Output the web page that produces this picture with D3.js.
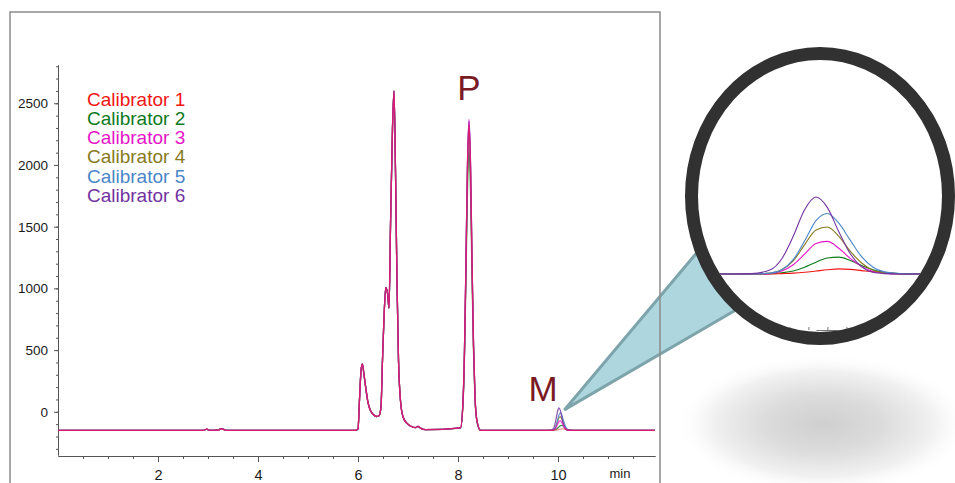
<!DOCTYPE html>
<html>
<head>
<meta charset="utf-8">
<script src="https://cdn.jsdelivr.net/npm/d3@7"></script>
<style>
body { margin: 0; background: #fff; }
svg { display: block; font-family: "Liberation Sans", Arial, sans-serif; }
</style>
</head>
<body>
<svg id="chart" width="955" height="483"></svg>
<script>
// calibrator names + colours (legend order)
var calibrators = ["Calibrator 1", "Calibrator 2", "Calibrator 3", "Calibrator 4", "Calibrator 5", "Calibrator 6"];
var colors = ["#f01414", "#0e7a1e", "#e614c8", "#877a1c", "#4a86c8", "#7232a0"];

// part of the run that is the same for every calibrator (min, mAU)
var rtCommon = [0, 2.9, 2.98, 3.02, 3.06, 3.2, 3.26, 3.3, 3.36, 5.95, 6.0, 6.03, 6.06, 6.087, 6.12, 6.16, 6.2, 6.25, 6.3, 6.37,
    6.42, 6.46, 6.49, 6.52, 6.555, 6.59, 6.62, 6.65, 6.69, 6.72, 6.75, 6.78, 6.81, 6.85, 6.9, 6.97, 7.05, 7.15, 7.2, 7.25, 7.35];
var sigCommon = [-150, -150, -141, -149, -150, -149, -137, -140, -150, -150, -140, 100, 330, 388, 300, 180, 75, 10, -20, -38,
    -32, 40, 420, 760, 1006, 962, 841, 1500, 2300, 2600, 1950, 1050, 420, 90, -40, -90, -115, -128, -118, -132, -145];

// peak P
var rtP = [8.05, 8.10, 8.13, 8.16, 8.19, 8.22, 8.25, 8.28, 8.31, 8.34, 8.38, 8.45];
var sigP = [
    [-130, 81, 495, 1214, 1983, 2330, 1983, 1214, 544, 123, -76, -150],
    [-132, 61, 440, 1098, 1802, 2120, 1802, 1098, 486, 100, -82, -150],
    [-130, 84, 505, 1236, 2017, 2370, 2017, 1236, 556, 127, -74, -150],
    [-130, 78, 487, 1197, 1957, 2300, 1957, 1197, 536, 120, -76, -150],
    [-130, 85, 503, 1230, 2009, 2360, 2009, 1230, 553, 126, -75, -150],
    [-130, 83, 500, 1225, 2000, 2350, 2000, 1225, 550, 125, -75, -150]
];

// peak M
var rtM = [9.80, 9.85, 9.90, 9.93, 9.96, 9.99, 10.02, 10.05, 10.08, 10.11, 10.14, 10.17, 10.20, 10.24, 10.30];
var sigM = [
    [-150, -150, -150, -149, -148, -146, -143, -140, -138, -139, -142, -145, -147, -149, -150],
    [-150, -150, -149, -147, -143, -134, -122, -112, -110, -118, -130, -140, -146, -149, -150],
    [-150, -150, -149, -143, -128, -103, -78, -73, -89, -113, -132, -144, -148, -150, -150],
    [-150, -150, -148, -140, -119, -81, -46, -39, -61, -96, -124, -141, -147, -150, -150],
    [-150, -150, -148, -140, -116, -72, -24, -7, -30, -70, -109, -134, -145, -149, -150],
    [-150, -149, -140, -114, -61, 2, 32, 7, -50, -102, -133, -146, -149, -150, -150]
];

var rtTail = [11.94];
var sigTail = [-150];

var yTicks = [0, 500, 1000, 1500, 2000, 2500];
var xTicks = [2, 4, 6, 8, 10];

var svg = d3.select("#chart");

function zip(a, b) { return a.map(function (t, i) { return [t, b[i]]; }); }

var traces = calibrators.map(function (name, i) {
    return zip(rtCommon, sigCommon)
        .concat(zip(rtP, sigP[i]))
        .concat(zip(rtM, sigM[i]))
        .concat(zip(rtTail, sigTail));
});

var x = d3.scaleLinear().domain([0, 11.94]).range([58, 655]);
var y = d3.scaleLinear().domain([-350, 2810]).range([455, 65]);

// zoomed view for the magnifier
var zx = d3.scaleLinear().domain([10.02, 10.12]).range([816, 854]);
var zy = d3.scaleLinear().domain([-150, 32]).range([274, 197]);

var defs = svg.append("defs");
var shade = defs.append("radialGradient").attr("id", "shade");
shade.append("stop").attr("offset", "0%").attr("stop-color", "#cfcfcf");
shade.append("stop").attr("offset", "40%").attr("stop-color", "#dcdcdc");
shade.append("stop").attr("offset", "75%").attr("stop-color", "#f1f1f1");
shade.append("stop").attr("offset", "100%").attr("stop-color", "#fff").attr("stop-opacity", 0);

defs.append("clipPath").attr("id", "lens")
    .append("ellipse").attr("cx", 820).attr("cy", 196).attr("rx", 122).attr("ry", 136);

// shadow under magnifier
svg.append("ellipse")
    .attr("cx", 823).attr("cy", 424).attr("rx", 148).attr("ry", 70)
    .attr("fill", "url(#shade)");

// axes
var gx = svg.append("g").attr("transform", "translate(0,456)");
gx.call(d3.axisBottom(x).tickValues(d3.range(0.5, 12, 0.5)).tickSize(3).tickSizeOuter(0).tickFormat(""));
gx.append("g").call(d3.axisBottom(x).tickValues(xTicks).tickSize(6).tickSizeOuter(0).tickPadding(8).tickFormat(d3.format("d")));
gx.selectAll(".domain").attr("stroke", "#555");
gx.selectAll(".tick line").attr("stroke", "#555");
gx.selectAll("text").attr("font-size", 14.5).attr("fill", "#1a1a1a").attr("font-family", null);

var gy = svg.append("g").attr("transform", "translate(58,0)");
gy.call(d3.axisLeft(y).tickValues(d3.range(-300, 2801, 100)).tickSize(2).tickSizeOuter(0).tickFormat(""));
gy.append("g").call(d3.axisLeft(y).tickValues(yTicks).tickSize(4).tickSizeOuter(0).tickPadding(6).tickFormat(d3.format("d")));
gy.selectAll(".domain").attr("stroke", "#555");
gy.selectAll(".tick line").attr("stroke", "#555");
gy.selectAll("text").attr("font-size", 13.5).attr("fill", "#1a1a1a").attr("font-family", null);

svg.append("text").attr("x", 620).attr("y", 478).attr("text-anchor", "middle")
    .attr("font-size", 13).attr("fill", "#1a1a1a").text("min");

// traces
var line = d3.line()
    .x(function (d) { return x(d[0]); })
    .y(function (d) { return y(d[1]); })
    .curve(d3.curveMonotoneX);

var order = [1, 3, 4, 5, 2, 0];
svg.append("g").selectAll("path")
    .data(order)
    .enter().append("path")
    .attr("d", function (i) { return line(traces[i]); })
    .attr("fill", "none")
    .attr("stroke", function (i) { return colors[i]; })
    .attr("stroke-opacity", function (i) { return i === 0 ? 0.45 : 0.8; })
    .attr("stroke-width", 1.3);

// legend
svg.append("g").selectAll("text")
    .data(calibrators)
    .enter().append("text")
    .attr("x", 87)
    .attr("y", function (d, i) { return 105.5 + i * 19.3; })
    .attr("font-size", 19)
    .attr("fill", function (d, i) { return colors[i]; })
    .text(function (d) { return d; });

// peak labels
svg.append("text").attr("x", x(8.22)).attr("y", 100).attr("text-anchor", "middle")
    .attr("font-size", 35).attr("fill", "#7a1a24").text("P");
svg.append("text").attr("x", x(9.7)).attr("y", 401).attr("text-anchor", "middle")
    .attr("font-size", 35).attr("fill", "#7a1a24").text("M");

// cone from M peak to magnifier
var tip = [x(10.14), y(20)];
svg.append("path")
    .attr("d", "M" + tip + "L705.8,242L748.7,302.5Z")
    .attr("fill", "#add6df")
    .attr("stroke", "#7ea4ab")
    .attr("stroke-width", 3)
    .attr("stroke-linejoin", "round");

// frame
svg.append("path")
    .attr("d", "M10,490V12H660V490")
    .attr("fill", "none")
    .attr("stroke", "#8c8c8c")
    .attr("stroke-width", 1.5);

// magnifier
svg.append("ellipse")
    .attr("cx", 820).attr("cy", 196).attr("rx", 128).attr("ry", 142)
    .attr("fill", "#fff");

var lens = svg.append("g").attr("clip-path", "url(#lens)");

var zline = d3.line()
    .x(function (d) { return zx(d[0]); })
    .y(function (d) { return zy(d[1]); })
    .curve(d3.curveMonotoneX);

lens.selectAll("path.z")
    .data([1, 0, 2, 3, 4, 5])
    .enter().append("path")
    .attr("class", "z")
    .attr("d", function (i) { return zline(traces[i]); })
    .attr("fill", "none")
    .attr("stroke", function (i) { return colors[i]; })
    .attr("stroke-width", 1.1);

var zAxis = lens.append("g").attr("transform", "translate(0,330)");
zAxis.call(d3.axisTop(zx).tickValues([9.95, 10.0, 10.05, 10.1]).tickSize(3).tickSizeOuter(0).tickFormat(""));
zAxis.selectAll(".domain").attr("stroke", "#777");
zAxis.selectAll(".tick line").attr("stroke", "#777");

svg.append("ellipse")
    .attr("cx", 820).attr("cy", 196).attr("rx", 128.5).attr("ry", 142.5)
    .attr("fill", "none")
    .attr("stroke", "#313131")
    .attr("stroke-width", 13);
</script>
</body>
</html>
